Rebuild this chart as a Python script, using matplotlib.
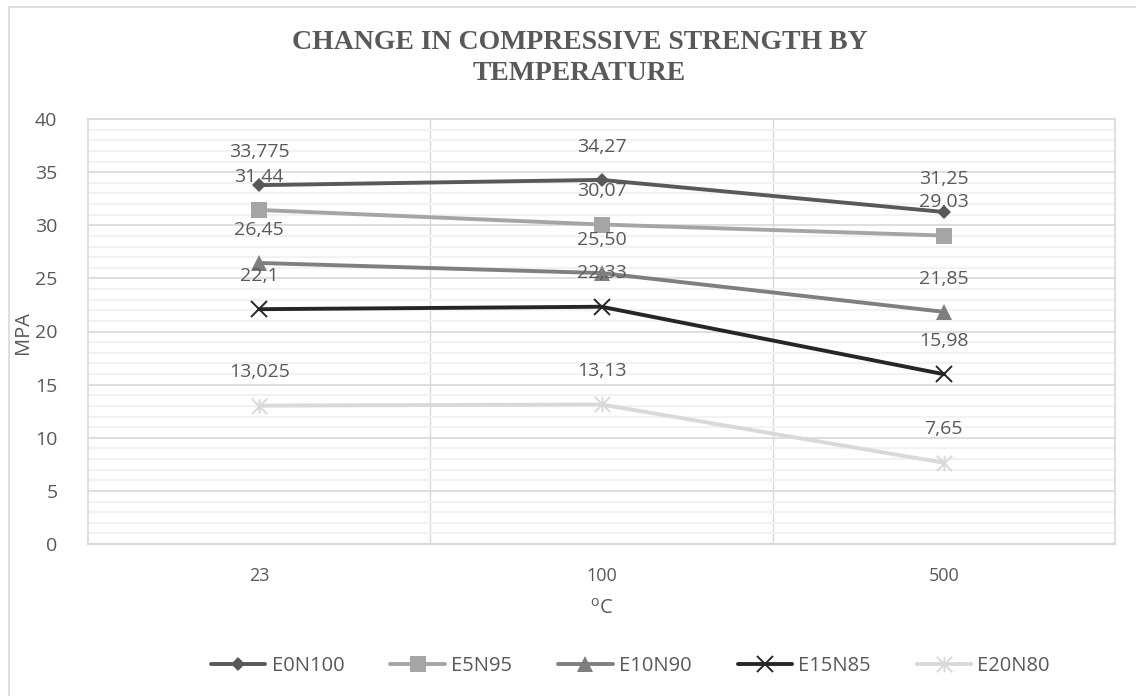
import matplotlib
matplotlib.use("Agg")
import matplotlib.pyplot as plt
from matplotlib.path import Path
from matplotlib.patches import Rectangle
from matplotlib.ticker import MultipleLocator

plt.rcParams['font.family'] = ['Open Sans', 'DejaVu Sans']
plt.rcParams['mathtext.fontset'] = 'custom'
plt.rcParams['mathtext.rm'] = 'Open Sans'

temps = ["23", "100", "500"]
series = ["E0N100", "E5N95", "E10N90", "E15N85", "E20N80"]

# strengths in MPa, written the way the labels show them
e0n100 = ["33,775", "34,27", "31,25"]
e5n95 = ["31,44", "30,07", "29,03"]
e10n90 = ["26,45", "25,50", "21,85"]
e15n85 = ["22,1", "22,33", "15,98"]
e20n80 = ["13,025", "13,13", "7,65"]

# excel-style star: vertical bar plus an X
star = Path([(0, -1), (0, 1), (-1, -1), (1, 1), (-1, 1), (1, -1)],
            [Path.MOVETO, Path.LINETO, Path.MOVETO, Path.LINETO, Path.MOVETO, Path.LINETO])

styles = [
    dict(color="#595959", marker="D", ms=7.5, mew=0),
    dict(color="#A5A5A5", marker="s", ms=12, mew=0),
    dict(color="#7F7F7F", marker="^", ms=11, mew=0),
    dict(color="#262626", marker="x", ms=11, mew=1.4),
    dict(color="#D9D9D9", marker=star, ms=11, mew=1.4),
]

fig = plt.figure(figsize=(11.36, 6.96), dpi=100)
ax = fig.add_axes([88 / 1136, 1 - 544 / 696, (1115 - 88) / 1136, (544 - 119) / 696])

# chart area border
fig.patches.append(Rectangle((9 / 1136, -0.05), 1.2, 1 - 7 / 696 + 0.05, transform=fig.transFigure,
                             fill=False, edgecolor="#D9D9D9", lw=1.2, zorder=0))

x = list(range(len(temps)))
handles = []
for name, vals, st in zip(series, [e0n100, e5n95, e10n90, e15n85, e20n80], styles):
    y = [float(v.replace(",", ".")) for v in vals]
    h, = ax.plot(x, y, lw=2.8, solid_capstyle="round", label=name, zorder=3, **st)
    handles.append(h)
    for xi, yi, lab in zip(x, y, vals):
        ax.annotate(lab, (xi, yi), xytext=(0, 24), textcoords="offset points",
                    ha="center", va="center", fontsize=14, color="#595959", zorder=4)

ax.set_xlim(-0.5, 2.5)
ax.set_ylim(0, 40)
ax.set_xticks(x)
ax.set_xticklabels(temps)
ax.set_xticks([0.5, 1.5], minor=True)
ax.yaxis.set_major_locator(MultipleLocator(5))
ax.yaxis.set_minor_locator(MultipleLocator(1))
ax.tick_params(which="both", length=0, colors="#595959")
ax.tick_params(axis="y", labelsize=14, pad=22)
ax.tick_params(axis="x", labelsize=13, pad=16.5)

ax.yaxis.grid(True, which="minor", color="#F2F2F2", lw=1.6, zorder=0)
ax.yaxis.grid(True, which="major", color="#D9D9D9", lw=1.2, zorder=1)
ax.xaxis.grid(True, which="minor", color="#D9D9D9", lw=1.0, zorder=1)
ax.set_axisbelow(True)
for s in ax.spines.values():
    s.set_color("#D9D9D9")
    s.set_linewidth(1.2)
ax.spines["bottom"].set_linewidth(1.6)

ax.set_ylabel("MPA", fontsize=14.5, color="#595959", labelpad=2)
ax.yaxis.set_label_coords(-55 / 1027, (544 - 332) / 425)
ax.set_xlabel(r"$^{\rm o}$C", fontsize=14.5, color="#595959", labelpad=10)

fig.text(0.51, 1 - 58 / 696, "CHANGE IN COMPRESSIVE STRENGTH BY\nTEMPERATURE",
         ha="center", va="center", family="Liberation Serif", weight="bold",
         fontsize=20, color="#595959", linespacing=1.35)

fig.legend(handles=handles, loc="center", bbox_to_anchor=(0.555, 1 - 666 / 696), ncol=5,
           frameon=False, handlelength=2.7, handletextpad=0.3, columnspacing=2.3,
           fontsize=14.5, labelcolor="#595959")

fig.savefig("out.png", dpi=100)
